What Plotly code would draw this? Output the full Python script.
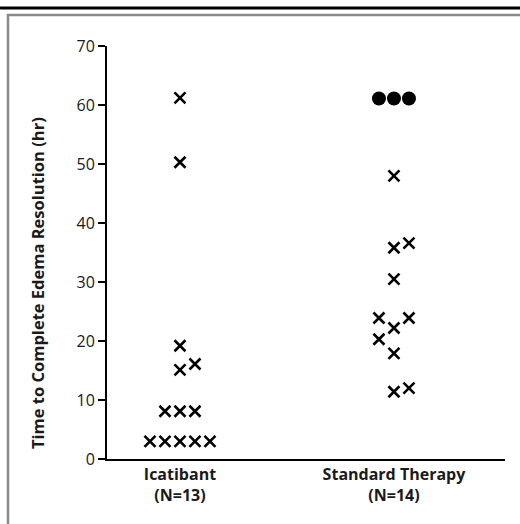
import plotly.graph_objects as go

# ---- data ----
categories = ["Icatibant", "Standard Therapy"]
category_n = [13, 14]
category_pos = [1, 2]

icatibant_hours = [61.2, 50.3, 19.2, 15.1, 16.1, 8.1, 8.1, 8.1, 3.0, 3.0, 3.0, 3.0, 3.0]
icatibant_slots = [0, 0, 0, 0, 1, -1, 0, 1, -2, -1, 0, 1, 2]

standard_hours = [48.0, 35.8, 36.6, 30.5, 23.9, 23.9, 22.2, 20.3, 17.9, 11.4, 12.0]
standard_slots = [0, 0, 1, 0, -1, 1, 0, -1, 0, 0, 1]

standard_unresolved_hours = [61.1, 61.1, 61.1]
standard_unresolved_slots = [-1, 0, 1]

y_ticks = [0, 10, 20, 30, 40, 50, 60, 70]
y_title = "Time to Complete Edema Resolution (hr)"

# ---- layout constants ----
W, H = 520, 524
L, R, T, B = 107, 15, 46, 65
SLOT = 0.0701
FONT = "Open Sans"
TXT = "#1a1a1a"

def xs(center, slots):
    return [center + s * SLOT for s in slots]

fig = go.Figure()
cross = dict(symbol="x-thin", size=11, color="black", line=dict(width=2.6, color="black"))
fig.add_trace(go.Scatter(x=xs(category_pos[0], icatibant_slots), y=icatibant_hours,
                         mode="markers", marker=cross, showlegend=False, cliponaxis=False))
fig.add_trace(go.Scatter(x=xs(category_pos[1], standard_slots), y=standard_hours,
                         mode="markers", marker=cross, showlegend=False, cliponaxis=False))
fig.add_trace(go.Scatter(x=xs(category_pos[1], standard_unresolved_slots), y=standard_unresolved_hours,
                         mode="markers", marker=dict(symbol="circle", size=14, color="black"),
                         showlegend=False, cliponaxis=False))

tick_text = [f"<b>{c}<br>(N={n})</b>" for c, n in zip(categories, category_n)]

fig.update_layout(
    width=W, height=H,
    margin=dict(l=L, r=R, t=T, b=B),
    paper_bgcolor="white", plot_bgcolor="white",
    font=dict(family=FONT, size=15, color=TXT),
    xaxis=dict(range=[0.659, 2.519], tickvals=category_pos, ticktext=tick_text,
               showgrid=False, zeroline=False, showline=True, linecolor="black", linewidth=2,
               ticks="", tickfont=dict(size=16, color=TXT, family=FONT)),
    yaxis=dict(range=[0, 70], tickvals=y_ticks, showgrid=False, zeroline=False,
               showline=True, linecolor="black", linewidth=2,
               ticks="outside", ticklen=7, tickwidth=2, tickcolor="black",
               tickfont=dict(size=16, color=TXT, family=FONT)),
)

pw, ph = W - L - R, H - T - B
def px_x(p):
    return (p - L) / pw
def px_y(p):
    return (H - B - p) / ph

# y-axis title as an annotation (placed slightly below the axis centre, like the reference)
fig.add_annotation(text=f"<b>{y_title}</b>", xref="paper", yref="paper",
                   x=px_x(37), y=px_y(283), textangle=-90, showarrow=False,
                   xanchor="center", yanchor="middle",
                   font=dict(size=16.5, family=FONT, color=TXT))

# decorative frame: black rule at top and gray box
fig.add_shape(type="line", xref="paper", yref="paper", x0=px_x(0), x1=px_x(W), y0=px_y(8), y1=px_y(8),
              line=dict(color="black", width=3))
fig.add_shape(type="line", xref="paper", yref="paper", x0=px_x(7), x1=px_x(W), y0=px_y(15), y1=px_y(15),
              line=dict(color="#8a8a8a", width=2.5))
fig.add_shape(type="line", xref="paper", yref="paper", x0=px_x(8), x1=px_x(8), y0=px_y(14), y1=px_y(H),
              line=dict(color="#8a8a8a", width=2.5))

fig.write_html("out.html", config={"displayModeBar": False},
               post_script="document.body.style.margin='0';")
